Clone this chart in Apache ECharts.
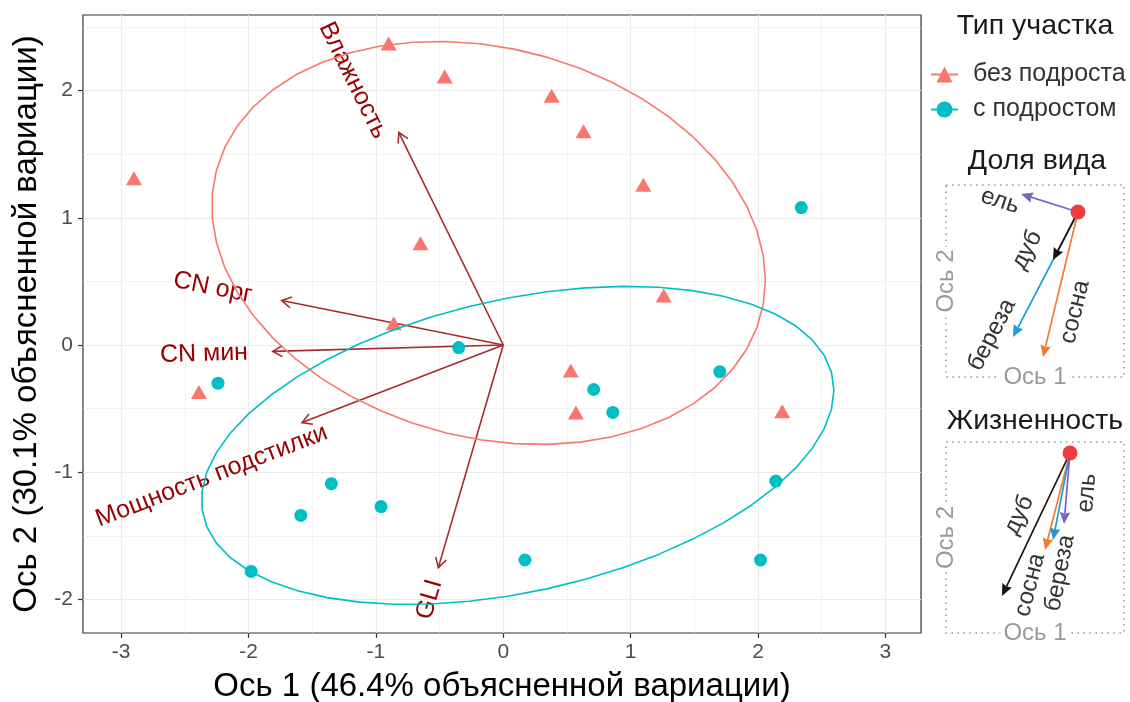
<!DOCTYPE html>
<html>
<head>
<meta charset="utf-8">
<script src="https://cdn.jsdelivr.net/npm/echarts@6/dist/echarts.min.js"></script>
<style>
  html, body { margin: 0; background: #fff; }
  #chart { width: 1130px; height: 702px; }
</style>
</head>
<body>
<div id="chart"></div>
<script>
// site scores (axis 1, axis 2)
var noUnderX = [-2.90, -0.90, -0.46, 0.38, 0.63, 1.10, -0.65, 1.26, -0.86, -2.39, 0.53, 0.57, 2.19];
var noUnderY = [1.31, 2.37, 2.11, 1.96, 1.68, 1.26, 0.80, 0.39, 0.17, -0.37, -0.20, -0.53, -0.52];
var underX = [2.34, -0.35, -2.24, 1.70, 0.71, 0.86, -1.35, -1.59, -0.96, -1.98, 0.17, 2.14, 2.02];
var underY = [1.08, -0.02, -0.30, -0.21, -0.35, -0.53, -1.09, -1.34, -1.27, -1.78, -1.69, -1.07, -1.69];

// environmental vectors
var envNames = ['Влажность', 'CN орг', 'CN мин', 'Мощность подстилки', 'GLI'];
var envX = [-0.82, -1.74, -1.81, -1.58, -0.51];
var envY = [1.67, 0.35, -0.05, -0.61, -1.75];
var envLabelX = [-1.18, -2.28, -2.35, -2.29, -0.58];
var envLabelY = [2.08, 0.45, -0.07, -1.03, -2.00];

var xTicks = [-3, -2, -1, 0, 1, 2, 3];
var yTicks = [-2, -1, 0, 1, 2];
var xMinor = [-2.5, -1.5, -0.5, 0.5, 1.5, 2.5];
var yMinor = [-1.5, -0.5, 0.5, 1.5, 2.5];

// species vectors for the two small panels
var species = ['ель', 'дуб', 'береза', 'сосна'];
var shareX = [-0.57, -0.25, -0.65, -0.35];
var shareY = [0.18, -0.48, -1.25, -1.45];
var shareLabelX = [-0.78, -0.51, -0.86, -0.03];
var shareLabelY = [0.11, -0.38, -1.23, -1.00];
var vitalX = [-0.06, -0.68, -0.17, -0.25];
var vitalY = [-0.71, -1.43, -0.87, -0.97];
var vitalLabelX = [0.17, -0.51, -0.10, -0.40];
var vitalLabelY = [-0.40, -0.62, -1.20, -1.32];

var FONT = '"Liberation Sans", Arial, sans-serif';
var RED = '#F8766D', CYAN = '#00BFC4';
var speciesColors = ['#7866BE', '#1c140c', '#1A9CD8', '#F7782F'];

function sum(a) { return a.reduce(function (s, v) { return s + v; }, 0); }

// normal-theory ellipse, 68% level
function groupEllipse(xs, ys) {
  var n = xs.length;
  var mx = sum(xs) / n, my = sum(ys) / n;
  var s11 = 0, s12 = 0, s22 = 0;
  for (var i = 0; i < n; i++) {
    var dx = xs[i] - mx, dy = ys[i] - my;
    s11 += dx * dx; s12 += dx * dy; s22 += dy * dy;
  }
  s11 /= n - 1; s12 /= n - 1; s22 /= n - 1;
  var r11 = Math.sqrt(s11), r12 = s12 / r11, r22 = Math.sqrt(s22 - r12 * r12);
  var rad = Math.sqrt(-2 * Math.log(1 - 0.68));
  var pts = [];
  for (var k = 0; k <= 51; k++) {
    var t = 2 * Math.PI * k / 51, ct = Math.cos(t), st = Math.sin(t);
    pts.push([mx + rad * ct * r11, my + rad * (ct * r12 + st * r22)]);
  }
  return pts;
}

function zip(xs, ys) { return xs.map(function (x, i) { return [x, ys[i]]; }); }

function textAngle(o, t) {
  // rotate text along the vector, kept readable
  var ang = Math.atan2(t[1] - o[1], t[0] - o[0]);
  var r = Math.PI - ang;
  while (r > Math.PI / 2) r -= Math.PI;
  while (r <= -Math.PI / 2) r += Math.PI;
  return r;
}

function envArrows(params, api) {
  var o = api.coord([0, 0]);
  var t = api.coord([api.value(0), api.value(1)]);
  var l = api.coord([api.value(2), api.value(3)]);
  var ang = Math.atan2(t[1] - o[1], t[0] - o[0]);
  var h = 11, sp = Math.PI / 6;
  var col = '#A52A2A';
  return {
    type: 'group',
    children: [
      { type: 'line', shape: { x1: o[0], y1: o[1], x2: t[0], y2: t[1] }, style: { stroke: col, lineWidth: 1.6 } },
      { type: 'polyline', shape: { points: [
          [t[0] - h * Math.cos(ang - sp), t[1] - h * Math.sin(ang - sp)], t,
          [t[0] - h * Math.cos(ang + sp), t[1] - h * Math.sin(ang + sp)]] },
        style: { stroke: col, lineWidth: 1.6, fill: null } },
      { type: 'text', x: l[0], y: l[1], rotation: textAngle(o, t),
        style: { text: envNames[params.dataIndex], fill: '#990000', font: '25px ' + FONT, align: 'center', verticalAlign: 'middle' } }
    ]
  };
}

function speciesArrows(idx, api) {
  var o = api.coord([0, 0]);
  var t = api.coord([api.value(0), api.value(1)]);
  var l = api.coord([api.value(2), api.value(3)]);
  var ang = Math.atan2(t[1] - o[1], t[0] - o[0]);
  var h = 13, sp = 0.42;
  var col = speciesColors[idx];
  var base = [t[0] - h * 0.8 * Math.cos(ang), t[1] - h * 0.8 * Math.sin(ang)];
  return {
    type: 'group',
    children: [
      { type: 'line', shape: { x1: o[0], y1: o[1], x2: base[0], y2: base[1] }, style: { stroke: col, lineWidth: 1.7 } },
      { type: 'polygon', shape: { points: [
          [t[0] - h * Math.cos(ang - sp), t[1] - h * Math.sin(ang - sp)], t,
          [t[0] - h * Math.cos(ang + sp), t[1] - h * Math.sin(ang + sp)], base] },
        style: { fill: col } },
      { type: 'text', x: l[0], y: l[1], rotation: textAngle(o, t),
        style: { text: species[idx], fill: '#333', font: '24px ' + FONT, align: 'center', verticalAlign: 'middle' } }
    ]
  };
}

var hidden = { axisLine: { show: false, onZero: false }, axisTick: { show: false }, axisLabel: { show: false }, splitLine: { show: false } };
var insetName = { color: '#999', fontSize: 24, fontFamily: FONT, backgroundColor: '#fff', padding: [0, 3] };
function insetAxis(gi, min, max, name) {
  return Object.assign({ gridIndex: gi, type: 'value', min: min, max: max,
    name: name, nameLocation: 'middle', nameGap: -12, nameTextStyle: insetName }, hidden);
}

var chart = echarts.init(document.getElementById('chart'));
var titleStyle = { fontSize: 28.5, fontWeight: 'normal', color: '#1a1a1a', fontFamily: FONT };
var insetGrid = { show: true, outerBoundsMode: 'none', containLabel: false, backgroundColor: 'transparent',
  borderColor: '#999', borderWidth: 1.6, borderType: [1.6, 4.4] };
var majorLine = { show: true, lineStyle: { color: '#EBEBEB', width: 1.2 } };
var minorLine = { show: true, lineStyle: { color: '#EBEBEB', width: 0.6 } };

chart.setOption({
  animation: false,
  textStyle: { fontFamily: FONT },
  title: [
    { text: 'Тип участка', left: 1035, top: 12, textAlign: 'center', padding: 0, textStyle: titleStyle },
    { text: 'Доля вида', left: 1037, top: 147, textAlign: 'center', padding: 0, textStyle: titleStyle },
    { text: 'Жизненность', left: 1035, top: 407, textAlign: 'center', padding: 0, textStyle: titleStyle }
  ],
  legend: {
    orient: 'vertical', left: 930, top: 62, padding: 0,
    itemWidth: 27, itemHeight: 20, itemGap: 10, selectedMode: false,
    data: ['без подроста', 'с подростом'],
    textStyle: { fontSize: 25, color: '#333', fontFamily: FONT, padding: [0, 0, 0, 10] }
  },
  grid: [
    { left: 83, top: 15, width: 838, height: 618, show: true, outerBoundsMode: 'none', containLabel: false,
      backgroundColor: 'transparent', borderColor: '#333', borderWidth: 1.2 },
    Object.assign({ left: 946, top: 185, width: 178, height: 192 }, insetGrid),
    Object.assign({ left: 946, top: 442, width: 178, height: 191 }, insetGrid)
  ],
  xAxis: [
    { gridIndex: 0, type: 'value', min: -3.3, max: 3.28,
      name: 'Ось 1 (46.4% объясненной вариации)', nameLocation: 'middle', nameGap: 37,
      nameTextStyle: { fontSize: 33, color: '#000', fontFamily: FONT },
      axisLine: { show: false, onZero: false },
      axisTick: { customValues: xTicks, length: 5, lineStyle: { color: '#333', width: 1.2 } },
      axisLabel: { customValues: xTicks, color: '#4D4D4D', fontSize: 21, margin: 9 },
      splitLine: majorLine },
    Object.assign({ gridIndex: 0, type: 'value', min: -3.3, max: 3.28 }, hidden,
      { axisTick: { show: false, customValues: xMinor }, splitLine: minorLine }),
    insetAxis(1, -1.32, 0.46, 'Ось 1'),
    insetAxis(2, -1.24, 0.54, 'Ось 1')
  ],
  yAxis: [
    { gridIndex: 0, type: 'value', min: -2.264, max: 2.594,
      name: 'Ось 2 (30.1% объясненной вариации)', nameLocation: 'middle', nameGap: 34,
      nameTextStyle: { fontSize: 33, color: '#000', fontFamily: FONT },
      axisLine: { show: false, onZero: false },
      axisTick: { customValues: yTicks, length: 5, lineStyle: { color: '#333', width: 1.2 } },
      axisLabel: { customValues: yTicks, color: '#4D4D4D', fontSize: 21, margin: 10 },
      splitLine: majorLine },
    Object.assign({ gridIndex: 0, type: 'value', position: 'left', min: -2.264, max: 2.594 }, hidden,
      { axisTick: { show: false, customValues: yMinor }, splitLine: minorLine }),
    insetAxis(1, -1.65, 0.27, 'Ось 2'),
    insetAxis(2, -1.80, 0.11, 'Ось 2')
  ],
  series: [
    { name: 'без подроста', type: 'line', xAxisIndex: 0, yAxisIndex: 0, data: groupEllipse(noUnderX, noUnderY),
      showSymbol: false, symbol: 'triangle', symbolSize: 16, silent: true,
      lineStyle: { color: RED, width: 1.6 }, itemStyle: { color: RED, borderWidth: 0 } },
    { name: 'с подростом', type: 'line', xAxisIndex: 0, yAxisIndex: 0, data: groupEllipse(underX, underY),
      showSymbol: false, symbol: 'circle', symbolSize: 13, silent: true,
      lineStyle: { color: CYAN, width: 1.6 }, itemStyle: { color: CYAN, borderWidth: 0 } },
    { type: 'custom', xAxisIndex: 0, yAxisIndex: 0, silent: true,
      data: envX.map(function (x, i) { return [x, envY[i], envLabelX[i], envLabelY[i]]; }),
      renderItem: envArrows },
    { name: 'без подроста', type: 'scatter', xAxisIndex: 0, yAxisIndex: 0, data: zip(noUnderX, noUnderY),
      symbol: 'triangle', symbolSize: [16, 14], itemStyle: { color: RED, opacity: 1 } },
    { name: 'с подростом', type: 'scatter', xAxisIndex: 0, yAxisIndex: 0, data: zip(underX, underY),
      symbol: 'circle', symbolSize: 13, itemStyle: { color: CYAN, opacity: 1 } },
    { type: 'custom', xAxisIndex: 2, yAxisIndex: 2, silent: true,
      data: [2, 1, 3, 0].map(function (i) { return [shareX[i], shareY[i], shareLabelX[i], shareLabelY[i], i]; }),
      renderItem: function (params, api) { return speciesArrows(api.value(4), api); } },
    { type: 'scatter', xAxisIndex: 2, yAxisIndex: 2, data: [[0, 0]], symbolSize: 15, itemStyle: { color: '#EF3B3B', opacity: 1 } },
    { type: 'custom', xAxisIndex: 3, yAxisIndex: 3, silent: true,
      data: [1, 3, 2, 0].map(function (i) { return [vitalX[i], vitalY[i], vitalLabelX[i], vitalLabelY[i], i]; }),
      renderItem: function (params, api) { return speciesArrows(api.value(4), api); } },
    { type: 'scatter', xAxisIndex: 3, yAxisIndex: 3, data: [[0, 0]], symbolSize: 15, itemStyle: { color: '#EF3B3B', opacity: 1 } }
  ]
});
</script>
</body>
</html>
